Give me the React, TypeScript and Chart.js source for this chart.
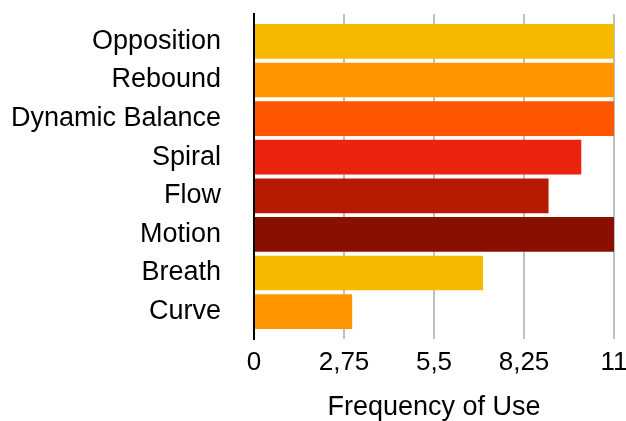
import { useEffect, useRef } from 'react';
import { Chart, registerables } from 'chart.js';

Chart.register(...registerables);

const categories = ['Opposition', 'Rebound', 'Dynamic Balance', 'Spiral', 'Flow', 'Motion', 'Breath', 'Curve'];
const frequency = [11, 11, 11, 10, 9, 11, 7, 3];
const barColors = ['#F6BB00', '#FF9600', '#FF5500', '#EC2311', '#B51900', '#891000', '#F6BB00', '#FF9600'];
const xTickValues = [0, 2.75, 5.5, 8.25, 11];
const xTitle = 'Frequency of Use';

const FONT = '"Liberation Sans", Arial, Helvetica, sans-serif';

export default function App() {
  const ref = useRef<HTMLCanvasElement>(null);
  useEffect(() => {
    const chart = new Chart(ref.current!, {
      type: 'bar',
      data: {
        datasets: [
          {
            data: frequency.map((v, i) => ({ x: v, y: i })),
            backgroundColor: barColors,
            borderWidth: 0,
            barPercentage: 0.9,
            categoryPercentage: 1,
          },
        ],
      },
      options: {
        indexAxis: 'y',
        animation: false,
        responsive: false,
        layout: { padding: { top: 14, right: 12, bottom: 0, left: 0 } },
        plugins: { legend: { display: false }, tooltip: { enabled: false } },
        scales: {
          x: {
            type: 'linear',
            position: 'bottom',
            min: 0,
            max: 11,
            afterBuildTicks: (s: any) => {
              s.ticks = xTickValues.map((v) => ({ value: v }));
            },
            afterFit: (s: any) => {
              s.height = 82;
              s.paddingRight = 12;
              s.paddingLeft = 0;
            },
            grid: { color: '#c0c0c0', lineWidth: 2, drawTicks: false },
            border: { display: false },
            ticks: {
              padding: 8,
              color: '#000',
              font: { family: FONT, size: 26 },
              callback: (v: any) => String(v).replace('.', ','),
            },
            title: {
              display: true,
              text: xTitle,
              color: '#000',
              font: { family: FONT, size: 27, lineHeight: 1 },
              padding: 0,
            },
          },
          y: {
            type: 'linear',
            offset: false,
            reverse: true,
            min: -0.71,
            max: 7.71,
            afterBuildTicks: (s: any) => {
              s.ticks = categories.map((_, i) => ({ value: i }));
            },
            afterFit: (s: any) => {
              s.width = 254;
              s.paddingTop = 0;
              s.paddingBottom = 0;
            },
            grid: { display: false, drawTicks: false },
            border: { display: true, color: '#000', width: 2 },
            ticks: {
              padding: 33,
              color: '#000',
              font: { family: FONT, size: 27 },
              callback: (v: any) => categories[v] ?? '',
            },
          },
        },
      },
    } as any);
    return () => chart.destroy();
  }, []);
  return (
    <div style={{ position: 'fixed', left: 0, top: 0, width: 626, height: 421, background: '#fff' }}>
      <canvas ref={ref} width={626} height={421} style={{ display: 'block' }} />
    </div>
  );
}
